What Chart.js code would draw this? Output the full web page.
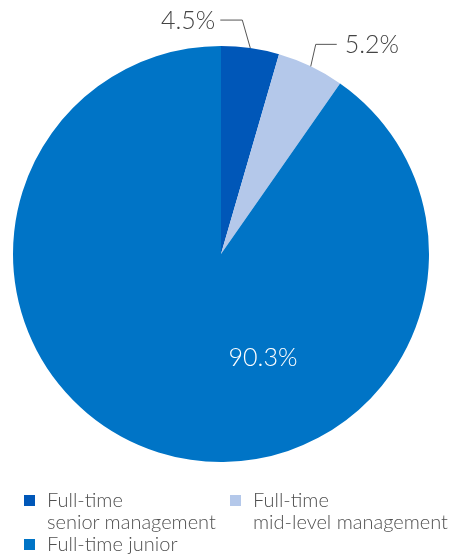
<!DOCTYPE html>
<html>
<head>
<meta charset="utf-8">
<script src="https://cdn.jsdelivr.net/npm/chart.js@4"></script>
<style>
  html, body { margin: 0; padding: 0; background: #fff; }
  #wrap { position: relative; width: 455px; height: 560px; overflow: hidden; }
  #legend {
    position: absolute; left: 24px; top: 488px; width: 430px;
    display: flex; flex-wrap: wrap;
    font-family: Lato, "Open Sans", sans-serif; font-weight: 300;
    font-size: 20px; line-height: 22px; color: #505050;
  }
  .item { display: flex; width: 206px; flex: none; white-space: nowrap; }
  .item .box { width: 11px; height: 11px; margin-top: 7px; margin-right: 12px; flex: none; }
</style>
</head>
<body>
<div id="wrap">
  <canvas id="chart" width="455" height="560"></canvas>
  <div id="legend"></div>
</div>
<script>
const labels = [
  ["Full-time", "senior management"],
  ["Full-time", "mid-level management"],
  ["Full-time junior"],
];
const shares = [4.5, 5.2, 90.3];
const colors = ["#0057b8", "#b4c8ea", "#0074c6"];

// callout placement per slice: elbow offset from the arc edge, leader length, text side
const callouts = [
  { dx: -8, dy: -28, len: 22, side: "left" },
  { dx: 5, dy: -22, len: 21, side: "right" },
  null,
];

const valueLabels = {
  id: "valueLabels",
  afterDatasetsDraw(chart) {
    const ctx = chart.ctx;
    const arcs = chart.getDatasetMeta(0).data;
    ctx.save();
    ctx.font = "300 25px Lato, 'Open Sans', sans-serif";
    ctx.textBaseline = "middle";
    arcs.forEach((arc, i) => {
      const text = shares[i].toFixed(1) + "%";
      const c = callouts[i];
      if (!c) {
        // big slice: label sits inside the pie
        ctx.fillStyle = "#fff";
        ctx.textAlign = "center";
        ctx.fillText(text, arc.x + 42, arc.y + 104);
        return;
      }
      const mid = (arc.startAngle + arc.endAngle) / 2;
      const ax = arc.x + Math.cos(mid) * arc.outerRadius;
      const ay = arc.y + Math.sin(mid) * arc.outerRadius;
      const ex = ax + c.dx;
      const ey = ay + c.dy;
      const hx = c.side === "left" ? ex - c.len : ex + c.len;
      ctx.strokeStyle = "#555";
      ctx.lineWidth = 1;
      ctx.beginPath();
      ctx.moveTo(ax, ay);
      ctx.lineTo(ex, ey);
      ctx.lineTo(hx, ey);
      ctx.stroke();
      ctx.fillStyle = "#444";
      ctx.textAlign = c.side === "left" ? "right" : "left";
      ctx.fillText(text, c.side === "left" ? hx - 5 : hx + 8, ey + 1);
    });
    ctx.restore();
  },
};

new Chart(document.getElementById("chart"), {
  type: "pie",
  data: {
    labels: labels.map((l) => l.join(" ")),
    datasets: [
      {
        data: shares,
        backgroundColor: colors,
        borderWidth: 0,
      },
    ],
  },
  options: {
    responsive: false,
    animation: false,
    layout: { padding: { left: 13, top: 46, right: 26, bottom: 98 } },
    plugins: { legend: { display: false }, tooltip: { enabled: false } },
  },
  plugins: [valueLabels],
});

const legend = document.getElementById("legend");
labels.forEach((lines, i) => {
  const item = document.createElement("div");
  item.className = "item";
  item.innerHTML =
    `<span class="box" style="background:${colors[i]}"></span>` +
    `<span>${lines.join("<br>")}</span>`;
  legend.appendChild(item);
});
</script>
</body>
</html>
